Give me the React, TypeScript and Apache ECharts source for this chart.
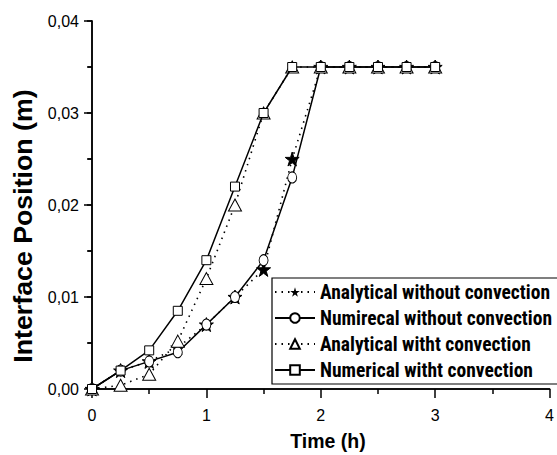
import React, { useEffect, useRef } from "react";
import * as echarts from "echarts";

const times = [0, 0.25, 0.5, 0.75, 1, 1.25, 1.5, 1.75, 2, 2.25, 2.5, 2.75, 3];
const analyticalWithout = [0, 0.002, 0.003, 0.0045, 0.007, 0.01, 0.013, 0.025, 0.035, 0.035, 0.035, 0.035, 0.035];
const numericalWithout = [0, 0.002, 0.003, 0.004, 0.007, 0.01, 0.014, 0.023, 0.035, 0.035, 0.035, 0.035, 0.035];
const analyticalWith = [0, 0.0004, 0.0016, 0.0052, 0.012, 0.02, 0.03, 0.035, 0.035, 0.035, 0.035, 0.035, 0.035];
const numericalWith = [0, 0.002, 0.0042, 0.0085, 0.014, 0.022, 0.03, 0.035, 0.035, 0.035, 0.035, 0.035, 0.035];

const seriesNames = [
  "Analytical without convection",
  "Numirecal without convection",
  "Analytical witht convection",
  "Numerical witht convection",
];

const xTitle = "Time (h)";
const yTitle = "Interface Position (m)";

const STAR = "path://M50,0 L61,35 L98,35 L68,57 L79,91 L50,70 L21,91 L32,57 L2,35 L39,35 Z";
const NARROW = "'Roboto Condensed', 'Liberation Sans', Arial, sans-serif";
const SANS = "'Liberation Sans', Arial, sans-serif";

const pair = (vals: number[]) => times.map((t, i) => [t, vals[i]]);

export default function App() {
  const ref = useRef<HTMLDivElement>(null);
  useEffect(() => {
    if (!ref.current) return;
    const chart = echarts.init(ref.current, null, { renderer: "svg" });
    const dotted = { color: "#000", width: 1.6, type: [1.5, 5] as any };
    const solid = { color: "#000", width: 1.5, type: "solid" as any };
    const fmt = (v: number) => v.toFixed(2).replace(".", ",");
    chart.setOption({
      animation: false,
      backgroundColor: "#fff",
      grid: { left: 92, right: 1, top: 21, bottom: 66, containLabel: false },
      xAxis: [
        {
          type: "value",
          min: 0,
          max: 4,
          interval: 1,
          axisLine: { lineStyle: { color: "#000", width: 1.5 } },
          axisTick: { inside: false, length: 9, lineStyle: { color: "#000", width: 1.5 } },
          minorTick: { show: true, splitNumber: 2, length: 5, lineStyle: { color: "#000", width: 1.5 } },
          splitLine: { show: false },
          axisLabel: { color: "#000", fontSize: 16, fontFamily: SANS, margin: 18 },
        },
        {
          type: "value",
          position: "top",
          min: 0,
          max: 4,
          interval: 1,
          axisLine: { lineStyle: { color: "#000", width: 1.5 } },
          axisTick: { show: false },
          axisLabel: { show: false },
          splitLine: { show: false },
        },
      ],
      yAxis: [
        {
          type: "value",
          min: 0,
          max: 0.04,
          interval: 0.01,
          axisLine: { show: true, lineStyle: { color: "#000", width: 1.5 } },
          axisTick: { show: true, inside: false, length: 8, lineStyle: { color: "#000", width: 1.5 } },
          minorTick: { show: true, splitNumber: 2, length: 4, lineStyle: { color: "#000", width: 1.5 } },
          splitLine: { show: false },
          axisLabel: { color: "#000", fontSize: 16, fontFamily: SANS, margin: 13, formatter: fmt },
        },
        {
          type: "value",
          position: "right",
          min: 0,
          max: 0.04,
          interval: 0.005,
          axisLine: { show: true, lineStyle: { color: "#000", width: 1.5 } },
          axisTick: { show: true, inside: true, length: 5, lineStyle: { color: "#000", width: 1.5 } },
          axisLabel: { show: false },
          splitLine: { show: false },
        },
      ],
      legend: {
        orient: "vertical",
        left: 272,
        top: 278,
        padding: [4, 8, 4, 2],
        itemGap: 6,
        itemWidth: 40,
        itemHeight: 12,
        borderColor: "#000",
        borderWidth: 1.2,
        borderRadius: 0,
        backgroundColor: "#fff",
        textStyle: { color: "#000", fontSize: 19.5, fontWeight: "bold", fontFamily: NARROW, lineHeight: 20 },
        data: seriesNames,
      },
      series: [
        {
          name: seriesNames[0],
          type: "line",
          data: pair(analyticalWithout),
          symbol: STAR,
          symbolSize: 14,
          lineStyle: dotted,
          itemStyle: { color: "#000", borderColor: "#000" },
          z: 2,
        },
        {
          name: seriesNames[1],
          type: "line",
          data: pair(numericalWithout),
          symbol: "circle",
          symbolSize: [9, 11],
          lineStyle: solid,
          itemStyle: { color: "#fff", borderColor: "#000", borderWidth: 1 },
          z: 3,
        },
        {
          name: seriesNames[2],
          type: "line",
          data: pair(analyticalWith),
          symbol: "triangle",
          symbolSize: [13, 12],
          lineStyle: dotted,
          itemStyle: { color: "#fff", borderColor: "#000", borderWidth: 1 },
          z: 4,
        },
        {
          name: seriesNames[3],
          type: "line",
          data: pair(numericalWith),
          symbol: "rect",
          symbolSize: 9,
          lineStyle: solid,
          itemStyle: { color: "#fff", borderColor: "#000", borderWidth: 1 },
          z: 5,
        },
      ],
      graphic: [
        {
          type: "text",
          x: 23,
          y: 226,
          rotation: Math.PI / 2,
          scaleX: 1.07,
          style: {
            text: yTitle,
            fontSize: 25,
            fontWeight: "bold",
            fontFamily: SANS,
            fill: "#000",
            align: "center",
            verticalAlign: "middle",
          },
        },
        {
          type: "text",
          x: 328,
          y: 441,
          style: {
            text: xTitle,
            fontSize: 19.5,
            fontWeight: "bold",
            fontFamily: SANS,
            fill: "#000",
            align: "center",
            verticalAlign: "middle",
          },
        },
      ],
    });
    return () => chart.dispose();
  }, []);
  return (
    <div
      ref={ref}
      style={{ position: "absolute", left: 0, top: 0, width: 557, height: 455 }}
    />
  );
}
